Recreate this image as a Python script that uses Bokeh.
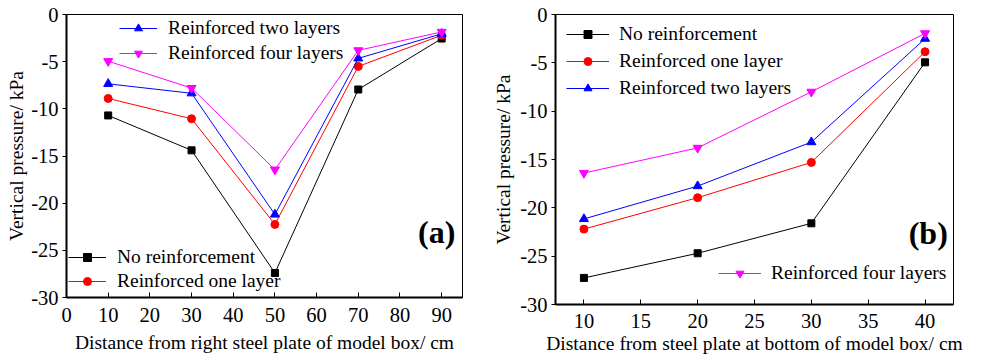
from bokeh.plotting import figure
from bokeh.models import Range1d, FixedTicker, Legend, LegendItem, Label
from bokeh.layouts import row
from bokeh.embed import file_html
from bokeh.resources import INLINE

# ---------------- data ----------------
x_a = [10, 30, 50, 70, 90]
a_none = [-10.7, -14.4, -27.4, -7.95, -2.55]
a_one = [-8.9, -11.05, -22.25, -5.5, -2.2]
a_two = [-7.35, -8.35, -21.2, -4.65, -2.05]
a_four = [-4.95, -7.8, -16.45, -3.8, -1.85]

x_b = [10, 20, 30, 40]
b_none = [-27.25, -24.7, -21.6, -4.95]
b_one = [-22.2, -18.95, -15.3, -3.85]
b_two = [-21.15, -17.75, -13.2, -2.5]
b_four = [-16.4, -13.8, -8.0, -1.95]

series_names = ["No reinforcement", "Reinforced one layer",
                "Reinforced two layers", "Reinforced four layers"]
y_ticks = [0, -5, -10, -15, -20, -25, -30]
y_tick_labels = ["0", "-5", "-10", "-15", "-20", "-25", "-30"]
x_ticks_a = [0, 10, 20, 30, 40, 50, 60, 70, 80, 90]
x_ticks_b = [10, 15, 20, 25, 30, 35, 40]

colors = ["#000000", "#FF0000", "#0000FF", "#FF00FF"]
markers = ["square", "circle", "triangle", "inverted_triangle"]
sizes = [7, 8, 9, 9]

FONT = "Liberation Serif"
TICK_FS = "20.5px"
LABEL_FS = "19.5px"
LEG_FS = "19.5px"


def style(p, xticks, xlabel, x_label_standoff, x_axis_label_standoff, y_axis_label_standoff):
    p.xgrid.visible = False
    p.ygrid.visible = False
    p.outline_line_color = "black"
    p.outline_line_width = 1
    p.outline_line_alpha = 1
    p.background_fill_color = "white"
    p.border_fill_color = "white"
    xa = p.xaxis[0]
    xa.ticker = FixedTicker(ticks=xticks)
    xa.axis_label = xlabel
    xa.axis_line_width = 2
    xa.major_tick_in = 5
    xa.major_tick_out = 0
    xa.minor_tick_line_color = None
    xa.major_label_standoff = x_label_standoff
    xa.axis_label_standoff = x_axis_label_standoff
    ya = p.yaxis[0]
    ya.ticker = FixedTicker(ticks=y_ticks)
    ya.major_label_overrides = {t: s for t, s in zip(y_ticks, y_tick_labels)}
    ya.axis_label = "Vertical pressure/ kPa"
    ya.axis_line_width = 2
    ya.major_tick_in = 0
    ya.major_tick_out = 4
    ya.minor_tick_line_color = None
    ya.major_label_standoff = 4
    ya.axis_label_standoff = y_axis_label_standoff
    for ax in (xa, ya):
        ax.major_label_text_font = FONT
        ax.major_label_text_font_size = TICK_FS
        ax.major_label_text_color = "black"
        ax.axis_label_text_font = FONT
        ax.axis_label_text_font_size = LABEL_FS
        ax.axis_label_text_font_style = "normal"
        ax.axis_label_text_color = "black"
        ax.major_tick_line_color = "black"
        ax.axis_line_color = "black"


def draw(p, xs, ys_list):
    rs = []
    for ys, c, m, s in zip(ys_list, colors, markers, sizes):
        lr = p.line(xs, ys, line_color=c, line_width=1)
        sr = p.scatter(xs, ys, marker=m, size=s, fill_color=c, line_color=c)
        rs.append([lr, sr])
    return rs


def make_legend(items, loc, glyph_width, standoff, label_h, spacing):
    lg = Legend(items=items, location=loc, padding=0, margin=0,
                glyph_width=glyph_width, glyph_height=20, label_height=label_h,
                label_standoff=standoff, spacing=spacing,
                label_text_font=FONT, label_text_font_size=LEG_FS,
                label_text_color="black",
                border_line_alpha=0, background_fill_alpha=0)
    return lg


# ---------------- panel (a) ----------------
pa = figure(width=490, height=358, output_backend="svg", toolbar_location=None,
            x_range=Range1d(0, 95), y_range=Range1d(-30, 0),
            min_border_left=66, min_border_right=28,
            min_border_top=14, min_border_bottom=61, frame_align=False)
style(pa, x_ticks_a, "Distance from right steel plate of model box/ cm", 10, 7, 1)
ra = draw(pa, x_a, [a_none, a_one, a_two, a_four])

leg_a_top = make_legend([LegendItem(label=series_names[2], renderers=ra[2]),
                         LegendItem(label=series_names[3], renderers=ra[3])],
                        (53, 232), 38, 11, 25, 0)
leg_a_bot = make_legend([LegendItem(label=series_names[0], renderers=ra[0]),
                         LegendItem(label=series_names[1], renderers=ra[1])],
                        (2, 4), 38, 11, 24, 0)
pa.add_layout(leg_a_top, "center")
pa.add_layout(leg_a_bot, "center")
pa.add_layout(Label(x=93.3, y=-23.05, text="(a)", text_align="right",
                    text_baseline="middle", text_font=FONT,
                    text_font_size="32px", text_font_style="bold",
                    text_color="black"))

# ---------------- panel (b) ----------------
pb = figure(width=494, height=358, output_backend="svg", toolbar_location=None,
            x_range=Range1d(7.5, 42.5), y_range=Range1d(-30, 0),
            min_border_left=59, min_border_right=31,
            min_border_top=14, min_border_bottom=54, frame_align=False)
style(pb, x_ticks_b, "Distance from steel plate at bottom of model box/ cm", 9, 2, 3)
rb = draw(pb, x_b, [b_none, b_one, b_two, b_four])

leg_b_top = make_legend([LegendItem(label=series_names[0], renderers=rb[0]),
                         LegendItem(label=series_names[1], renderers=rb[1]),
                         LegendItem(label=series_names[2], renderers=rb[2])],
                        (11, 204), 43, 10, 25, 2)
leg_b_bot = make_legend([LegendItem(label=series_names[3], renderers=rb[3])],
                        (163, 19), 43, 10, 25, 0)
pb.add_layout(leg_b_top, "center")
pb.add_layout(leg_b_bot, "center")
pb.add_layout(Label(x=42.0, y=-22.6, text="(b)", text_align="right",
                    text_baseline="middle", text_font=FONT,
                    text_font_size="32px", text_font_style="bold",
                    text_color="black"))

layout = row(pa, pb)
open("out.html", "w").write(file_html(layout, INLINE))
